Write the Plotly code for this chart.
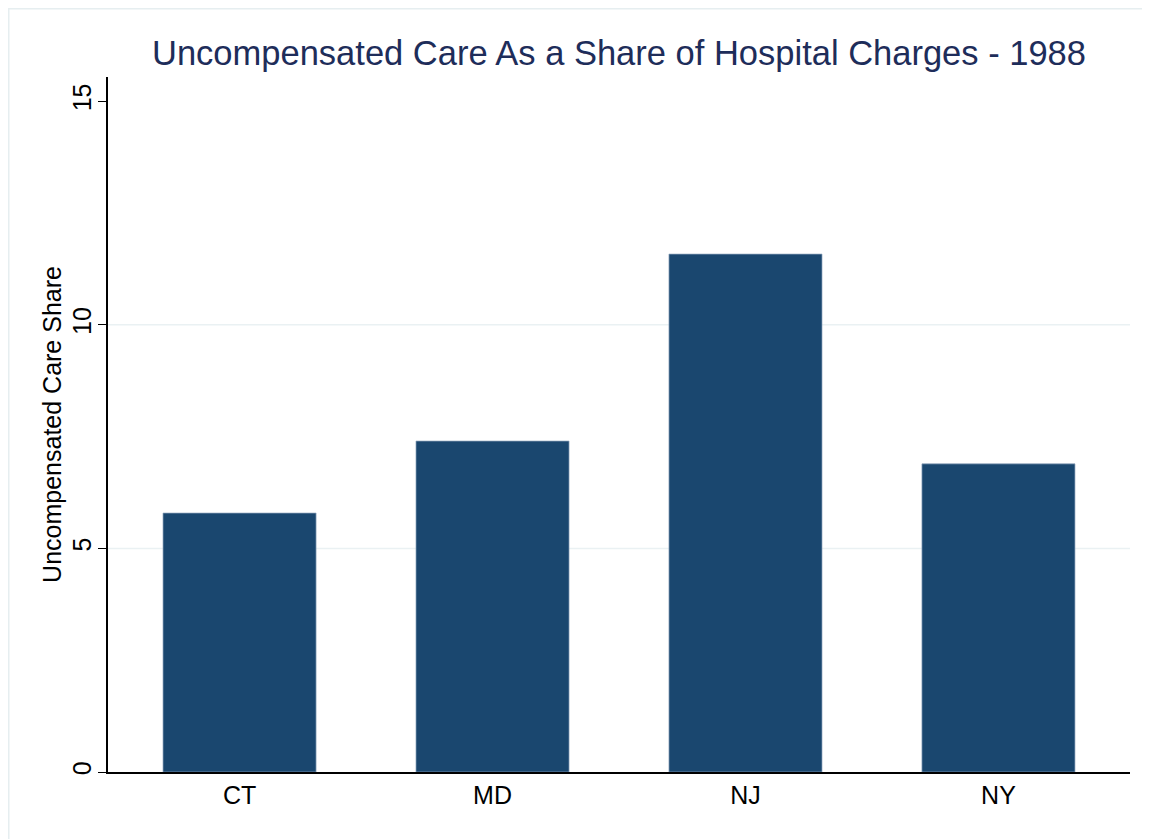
import plotly.graph_objects as go

# ── Dados ────────────────────────────────────────────────────────────────────
estados = ["CT", "MD", "NJ", "NY"]
participacao = [5.79, 7.40, 11.58, 6.89]
ticks_y = [0, 5, 10, 15]
grades_y = [5, 10]

COR_BARRA = "#1a476f"
COR_TITULO = "#1e2d5a"
COR_GRADE = "#eaf1f3"
FONTE = "Liberation Sans, Arial, Helvetica, sans-serif"

fig = go.Figure(
    go.Bar(
        x=estados,
        y=participacao,
        width=0.605,
        marker=dict(color=COR_BARRA, line=dict(color="#8fa5bd", width=0.7)),
    )
)

# linhas de grade só nos valores internos (como no Stata)
for v in grades_y:
    fig.add_shape(
        type="line", xref="paper", yref="y",
        x0=0, x1=1, y0=v, y1=v,
        line=dict(color=COR_GRADE, width=1.5),
        layer="below",
    )

# moldura clara em volta do gráfico (só aparecem topo e esquerda)
fig.add_shape(
    type="rect", xref="paper", yref="paper",
    x0=-0.0971, x1=1.2, y0=-0.3, y1=1.0982,
    line=dict(color="#e6eef0", width=1.5),
    layer="below",
)

# a página tem margem de 8px no body, por isso tudo sobe/vai 8px para trás
fig.update_layout(
    width=1150,
    height=839,
    margin=dict(l=100, r=28, t=69, b=75),
    plot_bgcolor="white",
    paper_bgcolor="white",
    font=dict(family=FONTE, color="black"),
    showlegend=False,
    title=dict(
        text="Uncompensated Care As a Share of Hospital Charges - 1988",
        font=dict(size=34.5, color=COR_TITULO),
        x=0.5, xref="paper", xanchor="center",
        y=1 - 45 / 839, yref="container", yanchor="middle",
    ),
    xaxis=dict(
        range=[-0.52, 3.52],
        showline=True, linecolor="black", linewidth=1.5,
        ticks="", showgrid=False,
        tickfont=dict(size=25),
        ticklabelstandoff=0,
    ),
    yaxis=dict(
        range=[0, 15.54],
        tickvals=ticks_y,
        showline=True, linecolor="black", linewidth=1.5,
        ticks="outside", ticklen=8, tickwidth=1.2, tickcolor="black",
        tickangle=-90,
        tickfont=dict(size=25),
        ticklabelstandoff=-3,
        showgrid=False, zeroline=False,
        title=dict(text="Uncompensated Care Share", font=dict(size=25), standoff=0),
    ),
)

fig.write_html("out.html")
